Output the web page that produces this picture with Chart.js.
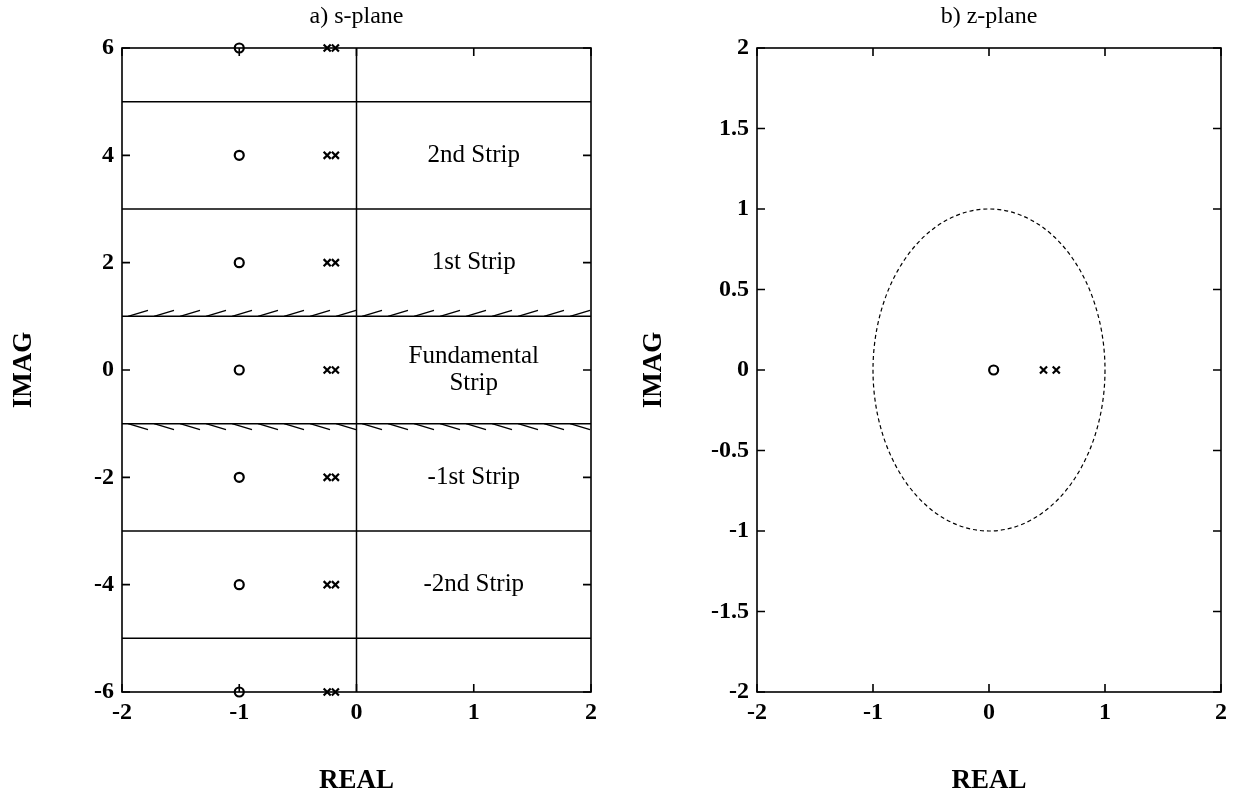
<!DOCTYPE html>
<html>
<head>
<meta charset="utf-8">
<title>s-plane / z-plane</title>
<script src="https://cdn.jsdelivr.net/npm/chart.js@4.4.0/dist/chart.umd.min.js"></script>
<style>
  html, body { margin: 0; padding: 0; background: #fff; }
  #wrap { position: relative; width: 1239px; height: 797px; }
  canvas { position: absolute; top: 0; }
  #sPlane { left: 0; }
  #zPlane { left: 620px; }
</style>
</head>
<body>
<div id="wrap">
  <canvas id="sPlane" width="620" height="797"></canvas>
  <canvas id="zPlane" width="619" height="797"></canvas>
</div>
<script>
// s-plane data
const S_X_TICKS = [-2, -1, 0, 1, 2];
const S_Y_TICKS = [-6, -4, -2, 0, 2, 4, 6];
const STRIP_EDGES = [-5, -3, -1, 1, 3, 5];
const FOLD_EDGES = [-1, 1];
const ZERO_RE = -1;
const ZERO_IM = [-6, -4, -2, 0, 2, 4, 6];
const POLE_RE = [-0.25, -0.18];
const POLE_IM = [-6, -4, -2, 0, 2, 4, 6];
const STRIP_IM = [4, 2, 0, -2, -4];
const STRIP_NAMES = [['2nd Strip'], ['1st Strip'], ['Fundamental', 'Strip'], ['-1st Strip'], ['-2nd Strip']];
const STRIP_NAME_RE = 1;

// z-plane data
const Z_X_TICKS = [-2, -1, 0, 1, 2];
const Z_Y_TICKS = [-2, -1.5, -1, -0.5, 0, 0.5, 1, 1.5, 2];
const Z_ZEROS = [0.04];
const Z_POLES = [0.47, 0.58];
const UNIT_RADIUS = 1;

const SERIF = '"Liberation Serif", "DejaVu Serif", serif';
const INK = '#000';

// box with inward ticks on all four sides + title above the plot
const framePlugin = {
  id: 'frame',
  afterDraw(chart, args, opts) {
    const {ctx, chartArea: a, scales: {x, y}} = chart;
    ctx.save();
    ctx.strokeStyle = INK;
    ctx.lineWidth = 1.6;
    ctx.strokeRect(a.left, a.top, a.right - a.left, a.bottom - a.top);
    const len = 8;
    ctx.beginPath();
    x.ticks.forEach(t => {
      const px = x.getPixelForValue(t.value);
      ctx.moveTo(px, a.bottom); ctx.lineTo(px, a.bottom - len);
      ctx.moveTo(px, a.top); ctx.lineTo(px, a.top + len);
    });
    y.ticks.forEach(t => {
      const py = y.getPixelForValue(t.value);
      ctx.moveTo(a.left, py); ctx.lineTo(a.left + len, py);
      ctx.moveTo(a.right, py); ctx.lineTo(a.right - len, py);
    });
    ctx.stroke();
    if (opts.title) {
      ctx.fillStyle = INK;
      ctx.font = '24px ' + SERIF;
      ctx.textAlign = 'center';
      ctx.textBaseline = 'middle';
      ctx.fillText(opts.title, (a.left + a.right) / 2, 17);
    }
    ctx.restore();
  }
};

// hatching on the fundamental strip edges, strip names
const stripPlugin = {
  id: 'strips',
  afterDatasetsDraw(chart) {
    const {ctx, chartArea: a, scales: {x, y}} = chart;
    ctx.save();
    ctx.strokeStyle = INK;
    ctx.lineWidth = 1.4;
    ctx.beginPath();
    FOLD_EDGES.forEach(e => {
      const py = y.getPixelForValue(e);
      const dir = e > 0 ? -1 : 1;
      for (let px = a.left + 6; px + 20 <= a.right; px += 26) {
        ctx.moveTo(px, py);
        ctx.lineTo(px + 20, py + dir * 6);
      }
    });
    ctx.stroke();

    ctx.fillStyle = INK;
    ctx.font = '25px ' + SERIF;
    ctx.textAlign = 'center';
    ctx.textBaseline = 'middle';
    const cx = x.getPixelForValue(STRIP_NAME_RE);
    STRIP_NAMES.forEach((lines, i) => {
      const cy = y.getPixelForValue(STRIP_IM[i]);
      lines.forEach((s, k) => {
        ctx.fillText(s, cx, cy + (k - (lines.length - 1) / 2) * 27);
      });
    });
    ctx.restore();
  }
};

// dashed unit circle, sized through the axis scales
const circlePlugin = {
  id: 'unitCircle',
  beforeDatasetsDraw(chart) {
    const {ctx, scales: {x, y}} = chart;
    const cx = x.getPixelForValue(0);
    const cy = y.getPixelForValue(0);
    const rx = x.getPixelForValue(UNIT_RADIUS) - cx;
    const ry = cy - y.getPixelForValue(UNIT_RADIUS);
    ctx.save();
    ctx.strokeStyle = INK;
    ctx.lineWidth = 1.2;
    ctx.setLineDash([4, 3]);
    ctx.beginPath();
    ctx.ellipse(cx, cy, rx, ry, 0, 0, Math.PI * 2);
    ctx.stroke();
    ctx.restore();
  }
};

function makeScales(xTicks, yTicks, yWidth, imagPad) {
  const tickFont = {family: SERIF, size: 24, weight: 'bold'};
  const titleFont = {family: SERIF, size: 27, weight: 'bold'};
  return {
    x: {
      type: 'linear',
      min: xTicks[0], max: xTicks[xTicks.length - 1],
      afterBuildTicks: s => { s.ticks = xTicks.map(v => ({value: v})); },
      afterFit: s => { s.height = 105; },
      grid: {display: false, drawTicks: false},
      border: {display: false},
      ticks: {color: INK, font: tickFont, padding: 6, maxRotation: 0, autoSkip: false, callback: v => String(v)},
      title: {display: true, text: 'REAL', color: INK, font: titleFont, padding: {top: 0, bottom: 0}}
    },
    y: {
      type: 'linear',
      min: yTicks[0], max: yTicks[yTicks.length - 1],
      afterBuildTicks: s => { s.ticks = yTicks.map(v => ({value: v})); },
      afterFit: s => { s.width = yWidth; },
      grid: {display: false, drawTicks: false},
      border: {display: false},
      ticks: {color: INK, font: tickFont, padding: 8, autoSkip: false, callback: v => String(v)},
      title: {display: true, text: 'IMAG', color: INK, font: titleFont, padding: {top: imagPad, bottom: 0}}
    }
  };
}

function lineSet(points) {
  return {data: points, showLine: true, borderColor: INK, borderWidth: 1.5, pointRadius: 0, clip: false};
}

function markerSet(points, style) {
  return {
    data: points,
    showLine: false,
    pointStyle: style,
    pointRadius: style === 'circle' ? 4.5 : 5,
    borderColor: INK,
    backgroundColor: 'rgba(0,0,0,0)',
    borderWidth: 2.2,
    clip: false
  };
}

const common = {
  responsive: false,
  animation: false,
  events: [],
  plugins: {legend: {display: false}, tooltip: {enabled: false}}
};

// a) s-plane
const sSets = [];
STRIP_EDGES.forEach(e => sSets.push(lineSet([{x: S_X_TICKS[0], y: e}, {x: S_X_TICKS[S_X_TICKS.length - 1], y: e}])));
sSets.push(lineSet([{x: 0, y: S_Y_TICKS[0]}, {x: 0, y: S_Y_TICKS[S_Y_TICKS.length - 1]}]));
sSets.push(markerSet(ZERO_IM.map(im => ({x: ZERO_RE, y: im})), 'circle'));
POLE_RE.forEach(re => sSets.push(markerSet(POLE_IM.map(im => ({x: re, y: im})), 'crossRot')));

new Chart(document.getElementById('sPlane'), {
  type: 'scatter',
  data: {datasets: sSets},
  options: Object.assign({}, common, {
    layout: {padding: {top: 48, right: 29, left: 0, bottom: 0}},
    scales: makeScales(S_X_TICKS, S_Y_TICKS, 122, 8),
    plugins: Object.assign({}, common.plugins, {frame: {title: 'a) s-plane'}})
  }),
  plugins: [stripPlugin, framePlugin]
});

// b) z-plane
const zSets = [
  markerSet(Z_ZEROS.map(re => ({x: re, y: 0})), 'circle'),
  markerSet(Z_POLES.map(re => ({x: re, y: 0})), 'crossRot')
];

new Chart(document.getElementById('zPlane'), {
  type: 'scatter',
  data: {datasets: zSets},
  options: Object.assign({}, common, {
    layout: {padding: {top: 48, right: 18, left: 0, bottom: 0}},
    scales: makeScales(Z_X_TICKS, Z_Y_TICKS, 137, 18),
    plugins: Object.assign({}, common.plugins, {frame: {title: 'b) z-plane'}})
  }),
  plugins: [circlePlugin, framePlugin]
});
</script>
</body>
</html>
